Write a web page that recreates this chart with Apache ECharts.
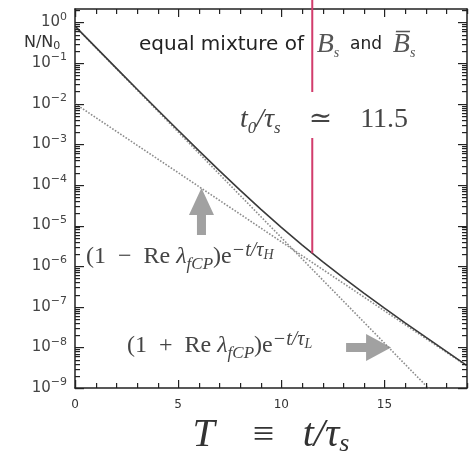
<!DOCTYPE html>
<html>
<head>
<meta charset="utf-8">
<script src="https://cdn.jsdelivr.net/npm/echarts@6/dist/echarts.min.js"></script>
<style>
  html, body { margin: 0; padding: 0; background: #ffffff; }
  #chart { width: 471px; height: 452px; }
</style>
</head>
<body>
<div id="chart"></div>
<script>
// Proper time in units of tau_s
const tSamples = [0, 1, 2, 3, 4, 5, 6, 7, 8, 9, 10, 11, 12, 13, 14, 15, 16, 17, 18, 19];
// Total yield N/N0 of the equal Bs / anti-Bs mixture
const totalYield = [0.81, 0.246, 0.0751, 0.0230, 7.09e-3, 2.21e-3, 6.98e-4, 2.25e-4, 7.44e-5, 2.54e-5,
                    9.03e-6, 3.34e-6, 1.29e-6, 5.19e-7, 2.16e-7, 9.21e-8, 4.01e-8, 1.78e-8, 7.94e-9, 3.57e-9];
// (1 - Re lambda) e^{-t/tau_H} component
const heavyTerm = [1.0e-2, 4.57e-3, 2.09e-3, 9.55e-4, 4.37e-4, 2.00e-4, 9.12e-5, 4.17e-5, 1.91e-5, 8.71e-6,
                   3.98e-6, 1.82e-6, 8.32e-7, 3.80e-7, 1.74e-7, 7.94e-8, 3.63e-8, 1.66e-8, 7.59e-9, 3.47e-9];
// (1 + Re lambda) e^{-t/tau_L} component
const lightTerm = [0.80, 0.2415, 0.0730, 0.0220, 6.65e-3, 2.01e-3, 6.07e-4, 1.83e-4, 5.53e-5, 1.67e-5,
                   5.05e-6, 1.52e-6, 4.60e-7, 1.39e-7, 4.20e-8, 1.27e-8, 3.83e-9, 1.16e-9, 3.49e-10, 1.05e-10];
// Marker at t0/tau_s = 11.5, drawn up from the total curve (gap left for its label)
const t0 = 11.5;
const t0Marker = [3.6, 0.0194, '-', 1.42e-3, 2.07e-6];

const xMajor = 5;
const xMax = 19;
const yMin = 1e-9;
const yMax = 2.14;

const pair = (xs, ys) => xs.map((x, i) => [x, ys[i]]);

// Tick positions for the frame: every unit along T, 1..9 x 10^n along N/N0
const xTickList = [];
for (let t = 0; t <= xMax; t++) xTickList.push([t, yMin, t % xMajor === 0 ? 1 : 0]);
const yTickList = [];
for (let e = -9; e <= 0; e++) {
  for (let k = 1; k <= 9; k++) {
    const v = k * Math.pow(10, e);
    if (v <= yMax) yTickList.push([0, v, k === 1 ? 1 : 0]);
  }
}

const serif = '"Liberation Serif", "DejaVu Serif", serif';
const sans = '"DejaVu Sans", "Liberation Sans", sans-serif';
const frame = { color: '#222', width: 1.5 };
const tickColor = '#222';

function decadeLabel(v) {
  const e = Math.round(Math.log10(v));
  if (Math.abs(Math.log10(v) - e) > 1e-6) return '';
  return '{b|10}{e|' + (e < 0 ? '\u2212' + (-e) : String(e)) + '}';
}

function frameAxisX(position, withLabels) {
  return {
    type: 'value', position: position, min: 0, max: xMax, interval: xMajor,
    axisLine: { show: true, onZero: false, lineStyle: frame },
    axisTick: { show: false },
    axisLabel: withLabels ? {
      show: true, margin: 11, fontSize: 12, fontFamily: sans, color: '#333', showMaxLabel: false
    } : { show: false },
    splitLine: { show: false }
  };
}

function frameAxisY(position, withLabels) {
  return {
    type: 'log', logBase: 10, position: position, min: yMin, max: yMax,
    axisLine: { show: true, onZero: false, lineStyle: frame },
    axisTick: { show: false },
    axisLabel: withLabels ? {
      show: true, margin: 8, formatter: decadeLabel, showMaxLabel: false,
      rich: {
        b: { fontSize: 15, fontFamily: sans, color: '#444', lineHeight: 22 },
        e: { fontSize: 11, fontFamily: sans, color: '#444', verticalAlign: 'top' }
      }
    } : { show: false },
    splitLine: { show: false }
  };
}

const xAxes = [frameAxisX('bottom', true), frameAxisX('top', false)];
xAxes[0].name = '{i|T}{r|    \u2261   }{i|t/\u03c4}{s|s}';
xAxes[0].nameLocation = 'middle';
xAxes[0].nameGap = 15;
xAxes[0].nameTextStyle = {
  rich: {
    i: { fontFamily: serif, fontStyle: 'italic', fontSize: 40, color: '#333', lineHeight: 42 },
    r: { fontFamily: serif, fontSize: 38, color: '#333' },
    s: { fontFamily: serif, fontStyle: 'italic', fontSize: 26, color: '#333', verticalAlign: 'bottom' }
  }
};

const formulaRich = (size) => ({
  r: { fontFamily: serif, fontWeight: 'normal', fontSize: size, color: '#444', lineHeight: size + 8 },
  g: { fontFamily: serif, fontWeight: 'normal', fontStyle: 'italic', fontSize: size, color: '#444' },
  sub: { fontFamily: serif, fontWeight: 'normal', fontStyle: 'italic', fontSize: Math.round(size * 0.72), color: '#444', verticalAlign: 'bottom' },
  sup: { fontFamily: serif, fontWeight: 'normal', fontStyle: 'italic', fontSize: Math.round(size * 0.85), color: '#444', verticalAlign: 'top' },
  ss: { fontFamily: serif, fontWeight: 'normal', fontStyle: 'italic', fontSize: Math.round(size * 0.58), color: '#444', verticalAlign: 'top', padding: [7, 0, 0, 0] }
});

// One short tick per data item, on the given edge of the plot frame
function tickSeries(name, list, edge) {
  return {
    name: name, type: 'custom', silent: true, z: 6, data: list,
    renderItem: function (params, api) {
      const major = api.value(2) === 1;
      if (edge === 'bottom' || edge === 'top') {
        const p = api.coord([api.value(0), edge === 'bottom' ? yMin : yMax]);
        const len = major ? 8 : 5;
        const x = Math.round(p[0]);
        const y = edge === 'bottom' ? p[1] - len : p[1];
        return { type: 'rect', shape: { x: x, y: y, width: 1.2, height: len }, style: { fill: tickColor } };
      }
      const p = api.coord([edge === 'left' ? 0 : xMax, api.value(1)]);
      const len = major ? 9 : 5;
      const y = Math.round(p[1]);
      const x = edge === 'left' ? p[0] : p[0] - len;
      return { type: 'rect', shape: { x: x, y: y, width: len, height: 1.2 }, style: { fill: tickColor } };
    }
  };
}

const chart = echarts.init(document.getElementById('chart'), null, { renderer: 'canvas' });
chart.setOption({
  backgroundColor: '#ffffff',
  animation: false,
  grid: { left: 75, right: 4, top: 9, bottom: 64, containLabel: false, outerBoundsMode: 'none' },
  title: [
    {
      text: '{t|N/N}{s|0}', left: 24, top: 34, padding: 0,
      textStyle: { rich: {
        t: { fontFamily: sans, fontWeight: 'normal', fontSize: 16, color: '#333', lineHeight: 18 },
        s: { fontFamily: sans, fontWeight: 'normal', fontSize: 11, color: '#333', verticalAlign: 'bottom' }
      } }
    },
    {
      text: '{s|equal mixture of  }{i|B}{b|s}{a|  and  }{i|B\u0305}{b|s}', left: 139, top: 30, padding: 0,
      textStyle: { rich: {
        s: { fontFamily: sans, fontWeight: 'normal', fontSize: 20, color: '#222', lineHeight: 30 },
        a: { fontFamily: sans, fontWeight: 'normal', fontSize: 17, color: '#222' },
        i: { fontFamily: serif, fontWeight: 'normal', fontStyle: 'italic', fontSize: 28, color: '#555' },
        b: { fontFamily: serif, fontWeight: 'normal', fontStyle: 'italic', fontSize: 14, color: '#555', verticalAlign: 'bottom' }
      } }
    },
    {
      text: '{i|t}{b|0}{i|/\u03c4}{b|s}{r|    \u2243    11.5}', left: 240, top: 103, padding: 0,
      textStyle: { rich: {
        i: { fontFamily: serif, fontWeight: 'normal', fontStyle: 'italic', fontSize: 28, color: '#444', lineHeight: 34 },
        r: { fontFamily: serif, fontWeight: 'normal', fontSize: 28, color: '#444' },
        b: { fontFamily: serif, fontWeight: 'normal', fontStyle: 'italic', fontSize: 17, color: '#444', verticalAlign: 'bottom' }
      } }
    },
    {
      text: '{r|(1  \u2212  Re }{g|\u03bb}{sub|fCP}{r|)e}{sup|\u2212t/\u03c4}{ss|H}', left: 86, top: 241, padding: 0,
      textStyle: { rich: formulaRich(24) }
    },
    {
      text: '{r|(1  +  Re }{g|\u03bb}{sub|fCP}{r|)e}{sup|\u2212t/\u03c4}{ss|L}', left: 127, top: 330, padding: 0,
      textStyle: { rich: formulaRich(24) }
    }
  ],
  xAxis: xAxes,
  yAxis: [frameAxisY('left', true), frameAxisY('right', false)],
  series: [
    {
      name: 'heavy', type: 'line', data: pair(tSamples, heavyTerm), showSymbol: false,
      lineStyle: { color: '#8c8c8c', width: 1.6, type: 'dotted' }, z: 2
    },
    {
      name: 'light', type: 'line', data: pair(tSamples, lightTerm), showSymbol: false,
      lineStyle: { color: '#8c8c8c', width: 1.6, type: 'dotted' }, z: 2
    },
    {
      name: 'total', type: 'line', data: pair(tSamples, totalYield), showSymbol: false,
      lineStyle: { color: '#3a3a3a', width: 1.6 }, z: 3
    },
    {
      name: 't0', type: 'line', data: t0Marker.map(v => [t0, v]), showSymbol: false,
      connectNulls: false, clip: false,
      lineStyle: { color: '#d23c6c', width: 2 }, z: 4
    },
    {
      name: 'arrows', type: 'scatter', clip: false, silent: true,
      data: [
        { value: [6.13, 2.2e-5], symbol: 'path://M12.5,0 L25,27 L17,27 L17,47 L8,47 L8,27 L0,27 Z', symbolSize: [25, 47] },
        { value: [14.23, 1.0e-8], symbol: 'path://M0,9 L20,9 L20,0 L45,13.5 L20,27 L20,18 L0,18 Z', symbolSize: [45, 27] }
      ],
      itemStyle: { color: '#8a8a8a' }, z: 5
    },
    tickSeries('ticksBottom', xTickList, 'bottom'),
    tickSeries('ticksTop', xTickList, 'top'),
    tickSeries('ticksLeft', yTickList, 'left'),
    tickSeries('ticksRight', yTickList, 'right')
  ]
});
</script>
</body>
</html>
